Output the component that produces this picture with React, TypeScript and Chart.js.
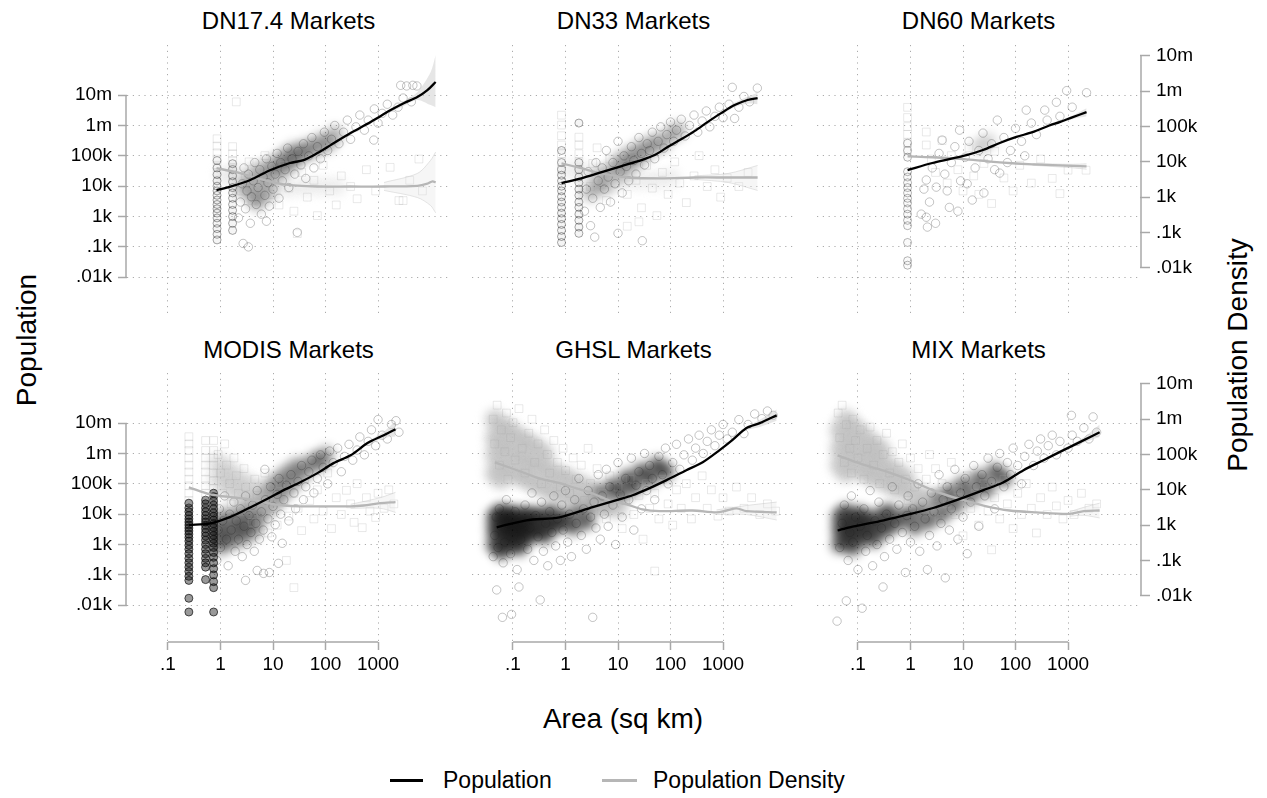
import { useEffect, useRef } from "react"
import { Chart, registerables } from "chart.js"

Chart.register(...registerables)

type Pt = [number, number]

const FONT = '"Liberation Sans", Arial, Helvetica, sans-serif'
Chart.defaults.font.family = FONT

// shared axes and labels
const xTicks = [0.1, 1, 10, 100, 1000]
const xTickLabels = [".1", "1", "10", "100", "1000"]
const yTicks = [10, 100, 1000, 10000, 100000, 1000000, 10000000]
const yTickLabels = [".01k", ".1k", "1k", "10k", "100k", "1m", "10m"]
const panelTitles = ["DN17.4 Markets", "DN33 Markets", "DN60 Markets", "MODIS Markets", "GHSL Markets", "MIX Markets"]
const legendLabels = ["Population", "Population Density"]

// ---------- DN17.4 ----------
const dn17FitArea = [0.84, 1.55, 3.7, 9, 21, 38, 70, 125, 300, 720, 1740, 3080, 5600, 8700, 12500]
const dn17FitPop = [7400, 9600, 16000, 34000, 58000, 72000, 123000, 225000, 560000, 1.3e6, 3.2e6, 5.4e6, 8.6e6, 14.5e6, 27e6]
const dn17DenArea = [0.84, 2.1, 5.1, 16, 70, 300, 1300, 5600, 8700, 10900, 12500]
const dn17Den = [6600, 5000, 3400, 2300, 2000, 2000, 2000, 2100, 2400, 2800, 2600]
const dn17PopBandArea = [1740, 3080, 5600, 10000, 12500]
const dn17PopBandHi = [3.6e6, 6.3e6, 12.5e6, 57e6, 210e6]
const dn17PopBandLo = [2.8e6, 4.4e6, 6.9e6, 4.7e6, 4.0e6]
const dn17DenBandArea = [1300, 5600, 10000, 12500]
const dn17DenBandHi = [2600, 4700, 11000, 19000]
const dn17DenBandLo = [1550, 980, 580, 360]
const dn17StripeAreas = [0.86, 1.7]
const dn17PopStripes = [
  [170, 260, 400, 600, 900, 1300, 1800, 2500, 3500, 5000, 7000, 10000, 15000, 24000, 40000, 70000],
  [350, 600, 1000, 1600, 2500, 4000, 6000, 9000, 14000, 22000, 35000, 55000],
]
const dn17DenStripes = [
  [5000, 8000, 12000, 18000, 28000, 45000],
  [4000, 7000, 11000, 17000, 27000],
]
const dn17PopPts: Pt[] = [
  [2.2, 900], [2.4, 3000], [2.6, 12000], [2.8, 40000], [3.0, 1800], [3.2, 7000], [3.4, 25000], [3.7, 600],
  [3.9, 4500], [4.2, 15000], [4.5, 60000], [4.8, 2500], [5.2, 9000], [5.6, 35000], [6.0, 1200], [6.5, 20000],
  [7.0, 5000], [7.5, 80000], [8.0, 13000], [8.5, 2200], [9.5, 45000], [10, 8000], [11, 25000], [12, 120000],
  [13, 4000], [14, 60000], [15, 15000], [17, 35000], [19, 180000], [20, 9000], [23, 80000], [26, 25000],
  [29, 300], [30, 140000], [34, 50000], [38, 250000], [42, 18000], [48, 100000], [55, 400000], [60, 40000],
  [70, 200000], [80, 80000], [95, 600000], [110, 150000], [130, 350000], [150, 1e6], [180, 250000], [220, 600000],
  [260, 1.5e6], [300, 350000], [380, 900000], [450, 2.2e6], [550, 700000], [650, 1.5e6], [830, 330000], [850, 3.5e6],
  [1000, 1.2e6], [1200, 2.5e6], [1500, 5e6], [1900, 2.2e6], [2400, 4e6], [3000, 8e6], [3500, 20e6], [4300, 6e6],
  [5500, 20e6], [2700, 21e6], [4600, 21e6], [2.7, 130], [3.4, 100], [7.5, 700],
]
const dn17PopCore: Pt[] = [
  [2.8, 8000], [3.5, 15000], [4.5, 5000], [5, 30000], [6.5, 12000], [8, 40000], [10, 20000], [12, 60000],
  [15, 35000], [17, 100000], [20, 55000], [25, 150000], [28, 80000], [35, 120000], [45, 200000], [60, 150000],
  [80, 300000], [110, 250000], [150, 500000], [5, 3000], [8, 6000],
]
const dn17DenPts: Pt[] = [
  [2.0, 500000], [2.5, 1500], [3, 4000], [3.5, 10000], [4, 800], [5, 2500], [6, 6000], [7, 15000], [9, 1200],
  [11, 3000], [13, 600], [16, 8000], [20, 1800], [25, 400], [29, 93], [35, 5000], [45, 1000], [60, 3000],
  [70, 300], [90, 8000], [120, 1500], [160, 600], [200, 4000], [300, 2000], [400, 900], [600, 6000], [900, 1500],
  [1700, 7000], [2500, 800], [3000, 800], [4000, 3000], [6000, 12000], [7000, 1500],
]
const dn17DenCore: Pt[] = [
  [1.2, 4000], [2, 5000], [3, 3000], [5, 2500], [8, 2000], [12, 2500], [20, 1800], [40, 2000], [80, 2000], [160, 2000],
]

// ---------- DN33 ----------
const dn33FitArea = [0.84, 2.0, 4.9, 11.7, 28, 50, 88, 162, 286, 505, 935, 1660, 2930, 4550]
const dn33FitPop = [12600, 18000, 29000, 46000, 72000, 106000, 194000, 355000, 650000, 1.29e6, 2.6e6, 4.7e6, 6.9e6, 8e6]
const dn33DenArea = [0.84, 2.0, 4.9, 15, 67, 286, 1260, 4550]
const dn33Den = [9100, 6600, 4700, 3600, 3400, 3600, 3600, 3600]
const dn33PopBandArea = [935, 1660, 2930, 4550]
const dn33PopBandHi = [2.9e6, 5.6e6, 8.8e6, 12e6]
const dn33PopBandLo = [2.3e6, 4.0e6, 5.2e6, 5.0e6]
const dn33DenBandArea = [286, 1260, 4550]
const dn33DenBandHi = [4000, 4700, 7900]
const dn33DenBandLo = [3200, 2600, 1550]
const dn33StripeAreas = [0.84, 1.8]
const dn33PopStripes = [
  [140, 220, 350, 550, 850, 1300, 2000, 3000, 4500, 7000, 10000, 15000, 23000, 35000, 60000, 150000],
  [280, 450, 750, 1200, 2000, 3000, 5000, 8000, 13000, 20000, 35000, 60000, 1.2e6],
]
const dn33DenStripes = [
  [6000, 10000, 17000, 30000, 55000, 110000, 210000],
  [6000, 10000, 17000, 30000, 50000],
]
const dn33PopPts: Pt[] = [
  [2.3, 1500], [2.5, 8000], [2.7, 30000], [3.0, 500], [3.3, 4000], [3.6, 210], [3.8, 60000], [4.2, 15000],
  [4.6, 2000], [5.0, 40000], [5.5, 8000], [6.0, 150000], [6.5, 20000], [7.2, 3000], [8.0, 60000], [8.8, 12000],
  [10, 280], [10, 300000], [11, 30000], [12, 6000], [13, 100000], [14.5, 45000], [16, 15000], [18, 200000],
  [20, 70000], [22, 25000], [25, 400000], [28, 120000], [29, 160], [32, 50000], [36, 250000], [40, 150000],
  [45, 600000], [50, 80000], [58, 300000], [65, 900000], [75, 180000], [85, 500000], [100, 1.3e6], [115, 300000],
  [130, 700000], [160, 1.6e6], [190, 450000], [230, 1e6], [280, 2.2e6], [330, 600000], [400, 1.4e6], [480, 3e6],
  [560, 900000], [700, 2e6], [850, 4e6], [1000, 1.8e6], [1300, 5e6], [1500, 18e6], [1660, 1.7e6], [2000, 4e6],
  [2500, 9e6], [3200, 6e6], [4500, 17e6],
]
const dn33PopCore: Pt[] = [
  [3, 6000], [4, 12000], [5, 25000], [6, 10000], [8, 30000], [10, 60000], [12, 25000], [14, 90000], [17, 50000],
  [20, 130000], [25, 80000], [30, 200000], [40, 150000], [50, 300000], [70, 250000], [100, 500000], [140, 700000],
]
const dn33DenPts: Pt[] = [
  [3, 2000], [3.3, 9000], [4, 25000], [5, 4000], [6, 800], [7, 12000], [9, 2500], [12, 6000], [15, 150],
  [15, 1200], [18, 15000], [22, 3000], [25, 200], [28, 500], [35, 8000], [45, 1800], [55, 300], [70, 5000],
  [90, 1200], [120, 10000], [150, 2500], [200, 700], [280, 4000], [350, 15000], [500, 2000], [700, 6000],
  [900, 1000], [1200, 3500], [2000, 2000], [3000, 5000],
]
const dn33DenCore: Pt[] = [
  [1.3, 6000], [2.5, 5000], [4, 4000], [7, 3500], [12, 3000], [25, 3000], [50, 3000], [100, 3500],
]

// ---------- DN60 ----------
const dn60FitArea = [0.88, 2.6, 5.5, 11.6, 24, 50, 104, 210, 440, 690, 1200, 2250]
const dn60FitPop = [34000, 58000, 78000, 105000, 155000, 265000, 420000, 600000, 1.0e6, 1.29e6, 1.85e6, 2.75e6]
const dn60DenArea = [0.88, 2.6, 11.6, 50, 210, 2250]
const dn60Den = [14400, 13500, 11800, 9700, 8500, 7400]
const dn60PopBandArea = [440, 1200, 2250]
const dn60PopBandHi = [1.1e6, 2.1e6, 3.7e6]
const dn60PopBandLo = [0.9e6, 1.6e6, 2.0e6]
const dn60DenBandArea = [210, 1200, 2250]
const dn60DenBandHi = [9000, 8500, 8800]
const dn60DenBandLo = [8000, 6800, 6200]
const dn60StripeAreas = [0.88]
const dn60PopStripes = [
  [25, 35, 140, 500, 750, 1200, 1800, 2800, 4000, 6000, 9000, 13000, 20000, 30000, 90000, 150000, 260000],
]
const dn60DenStripes = [[21000, 35000, 60000, 100000, 180000, 350000]]
const dn60PopPts: Pt[] = [
  [1.6, 1200], [1.8, 8000], [2.0, 16000], [2.0, 950], [2.1, 450], [2.3, 3000], [2.6, 40000], [3.1, 9300],
  [3.5, 120000], [4, 330000], [4.5, 25000], [5.5, 2000], [6, 60000], [7, 200000], [8.6, 700000], [9, 15000],
  [11, 90000], [13, 300000], [15, 3500], [17, 40000], [20, 150000], [24, 560000], [30, 80000], [35, 250000],
  [45, 1.5e6], [50, 27000], [60, 400000], [80, 150000], [100, 800000], [130, 300000], [160, 3.2e6], [200, 1.2e6],
  [250, 500000], [360, 3.2e6], [400, 1.5e6], [600, 5.8e6], [700, 2e6], [940, 14e6], [1200, 4e6], [2250, 12e6],
  [3, 600], [5, 7000], [8, 1500], [12, 12000], [25, 6000], [40, 35000], [70, 60000], [150, 100000],
]
const dn60PopCore: Pt[] = [[20, 200000], [30, 300000]]
const dn60DenPts: Pt[] = [
  [2, 70000], [2, 30000], [2.5, 12000], [3, 5000], [4, 40000], [5, 2500], [6, 15000], [8, 6000], [10, 1500],
  [13, 25000], [16, 4000], [20, 1200], [25, 9000], [35, 660], [40, 20000], [60, 3500], [90, 1500], [120, 8000],
  [200, 2500], [300, 12000], [500, 3400], [700, 1260], [1000, 5800], [2200, 5800],
]
const dn60DenCore: Pt[] = []

// ---------- MODIS ----------
const modisFitArea = [0.25, 0.64, 1.5, 3.5, 8, 16, 33, 70, 142, 300, 630, 1280, 2150]
const modisFitPop = [4400, 5000, 8000, 16000, 33000, 62000, 112000, 225000, 480000, 870000, 2.2e6, 4.0e6, 6.3e6]
const modisDenArea = [0.25, 0.64, 1.77, 3.7, 7.9, 16, 33, 91, 300, 530, 1100, 2150]
const modisDen = [11800, 7400, 6100, 5400, 4200, 3600, 3400, 3400, 3400, 3600, 4200, 4500]
const modisPopBandArea = [630, 1280, 2150]
const modisPopBandHi = [2.5e6, 5.2e6, 12e6]
const modisPopBandLo = [1.9e6, 3.2e6, 3.6e6]
const modisDenBandArea = [300, 1100, 2150]
const modisDenBandHi = [3900, 6000, 8500]
const modisDenBandLo = [3000, 3000, 2300]
const modisStripeAreas = [0.25, 0.52, 0.74]
const modisPopStripes = [
  [6, 17, 66, 90, 130, 180, 250, 350, 500, 700, 950, 1300, 1700, 2200, 2800, 3500, 4400, 5500, 7000, 9000, 12000, 16000, 23000],
  [70, 180, 250, 350, 500, 700, 1000, 1400, 1900, 2500, 3300, 4300, 5500, 7000, 9000, 12000, 16000, 22000, 29000],
  [6, 38, 60, 100, 160, 250, 380, 550, 800, 1100, 1500, 2000, 2700, 3600, 4800, 6400, 8500, 11000, 15000, 20000, 27000, 38000, 49000],
]
const modisDenStripes = [
  [5000, 8000, 13000, 20000, 32000, 50000, 80000, 130000, 200000, 320000],
  [5000, 8000, 13000, 20000, 32000, 50000, 80000, 130000, 250000],
  [4000, 7000, 11000, 18000, 30000, 50000, 80000, 130000, 250000],
]
const modisPopPts: Pt[] = [
  [0.85, 300], [0.9, 3000], [0.95, 15000], [1.0, 800], [1.1, 6000], [1.2, 40000], [1.3, 1500], [1.4, 200],
  [1.5, 10000], [1.6, 3000], [1.8, 25000], [1.9, 600], [2.0, 6000], [2.2, 1500], [2.4, 15000], [2.6, 400],
  [2.8, 4000], [3.0, 40000], [3.2, 1000], [3.5, 9000], [3.8, 2500], [4.1, 20000], [4.4, 600], [4.7, 5000],
  [5.0, 60000], [5.5, 1500], [6.0, 12000], [6.5, 3000], [7, 300000], [7.2, 30000], [8.0, 7000], [8.5, 120],
  [9, 80000], [9.5, 1800], [10, 18000], [11, 4500], [12, 45000], [13, 150000], [14, 10000], [15, 1100],
  [16, 30000], [18, 90000], [20, 6000], [22, 200000], [25, 50000], [27, 15000], [30, 120000], [35, 400000],
  [38, 30000], [42, 80000], [48, 250000], [55, 600000], [60, 50000], [70, 150000], [80, 900000], [90, 350000],
  [110, 100000], [120, 1.2e6], [140, 500000], [170, 1.5e6], [200, 250000], [230, 800000], [280, 2e6], [330, 600000],
  [400, 1.3e6], [450, 3.5e6], [550, 900000], [650, 2.5e6], [750, 6e6], [900, 1.8e6], [1000, 13e6], [1200, 4e6],
  [1500, 3e6], [1800, 9e6], [2200, 12e6], [2500, 5e6], [3, 66], [5, 140], [6.6, 112], [12.7, 240],
]
const modisPopCore: Pt[] = [
  [0.85, 1500], [0.85, 5000], [1, 800], [1, 3000], [1.2, 1800], [1.2, 9000], [1.5, 1200], [1.5, 4000],
  [2, 2500], [2, 8000], [2.5, 1500], [2.5, 5000], [3, 3500], [3, 15000], [4, 2500], [4, 9000], [5, 5000],
  [5, 25000], [7, 12000], [7, 50000], [10, 25000], [10, 90000], [14, 40000], [14, 150000], [20, 80000],
  [20, 250000], [30, 150000], [30, 400000], [45, 300000], [60, 600000], [80, 500000], [100, 900000],
]
const modisDenPts: Pt[] = [
  [0.9, 100000], [1, 30000], [1.1, 8000], [1.2, 200000], [1.3, 50000], [1.5, 15000], [1.6, 4000], [1.8, 80000],
  [2, 25000], [2.2, 8000], [2.5, 2500], [2.8, 40000], [3, 12000], [3.5, 4000], [4, 1200], [4.5, 20000],
  [5, 7000], [6, 2000], [7, 30000], [8, 600], [9, 10000], [10, 3000], [12, 1000], [14, 15000], [16, 5000],
  [18, 100], [20, 1800], [25, 17], [25, 8000], [30, 3000], [35, 700], [40, 20000], [50, 5000], [60, 1500],
  [70, 10000], [90, 2500], [110, 30000], [130, 800], [160, 6000], [200, 2000], [250, 9700], [300, 4000],
  [350, 1200], [400, 15000], [500, 850], [600, 6000], [700, 2500], [900, 1650], [1000, 8000], [1300, 3000],
  [1600, 10000], [2000, 4000],
]
const modisDenCore: Pt[] = [
  [0.9, 20000], [0.9, 60000], [1.2, 15000], [1.2, 40000], [1.6, 10000], [1.6, 30000], [2.2, 8000], [2.2, 20000],
  [3, 6000], [3, 15000], [4.5, 5000], [4.5, 12000], [7, 5000], [10, 4000],
]

// ---------- GHSL ----------
const ghslFitArea = [0.049, 0.18, 0.77, 3.3, 9.4, 19, 40, 84, 200, 410, 860, 1500, 2800, 5000, 10500]
const ghslFitPop = [3700, 6300, 7900, 17000, 29000, 42000, 72000, 132000, 280000, 515000, 1.29e6, 2.75e6, 6.9e6, 10e6, 18e6]
const ghslDenArea = [0.045, 0.12, 0.32, 0.77, 1.62, 3.3, 6.9, 14.5, 29, 62, 260, 750, 1170, 1800, 2800, 10500]
const ghslDen = [60000, 36000, 21000, 15500, 11000, 7900, 5000, 3900, 2800, 2500, 2600, 2300, 2600, 3000, 2500, 2300]
const ghslPopBandArea = [2800, 5000, 10500]
const ghslPopBandHi = [7.8e6, 13e6, 28e6]
const ghslPopBandLo = [6.0e6, 7.5e6, 12e6]
const ghslDenBandArea = [750, 2800, 10500]
const ghslDenBandHi = [2700, 3600, 4500]
const ghslDenBandLo = [2000, 2000, 1400]
const ghslPopPts: Pt[] = [
  [0.042, 400], [0.045, 2000], [0.048, 8000], [0.049, 32], [0.052, 800], [0.055, 15000], [0.06, 4000], [0.063, 4],
  [0.065, 250], [0.07, 1200], [0.075, 30000], [0.08, 6000], [0.09, 500], [0.094, 5], [0.1, 2500], [0.11, 12000],
  [0.12, 150], [0.13, 40], [0.14, 1500], [0.15, 5000], [0.17, 20000], [0.19, 700], [0.21, 3500], [0.23, 50000],
  [0.25, 300], [0.27, 9000], [0.3, 1800], [0.33, 15], [0.35, 25000], [0.38, 600], [0.42, 5000], [0.46, 200],
  [0.5, 12000], [0.55, 2500], [0.6, 40000], [0.65, 900], [0.7, 7000], [0.8, 300], [0.85, 20000], [0.9, 3000],
  [1.0, 60000], [1.1, 1200], [1.2, 10000], [1.3, 400], [1.5, 30000], [1.6, 5000], [1.8, 150000], [2.0, 2000],
  [2.2, 15000], [2.5, 700], [2.7, 60000], [3.0, 8000], [3.3, 4], [3.5, 25000], [3.8, 3500], [4.2, 200000],
  [4.6, 1500], [5, 40000], [5.5, 10000], [6, 300000], [6.5, 4000], [7, 80000], [8, 20000], [9, 1000],
  [10, 500000], [11, 45000], [12, 8000], [14, 150000], [16, 30000], [18, 700000], [20, 3000], [22, 90000],
  [25, 250000], [28, 15000], [32, 1e6], [35, 60000], [40, 400000], [45, 150000], [50, 30000], [60, 800000],
  [70, 200000], [80, 1.5e6], [90, 100000], [110, 500000], [130, 2e6], [150, 300000], [180, 900000], [220, 3e6],
  [260, 600000], [300, 1.5e6], [350, 4e6], [420, 1e6], [500, 2.5e6], [600, 6e6], [700, 1.8e6], [850, 4e6],
  [1000, 9e6], [1200, 3e6], [1500, 5e6], [2000, 13e6], [2500, 4.5e6], [3000, 9e6], [4000, 20e6], [5500, 14e6],
  [7000, 25e6], [9000, 18e6],
]
const ghslPopCore: Pt[] = [
  [0.045, 1000], [0.045, 3000], [0.045, 8000], [0.06, 600], [0.06, 2000], [0.06, 5000], [0.06, 12000],
  [0.08, 1000], [0.08, 3000], [0.08, 8000], [0.1, 1500], [0.1, 4000], [0.1, 10000], [0.13, 800], [0.13, 2500],
  [0.13, 6000], [0.17, 1500], [0.17, 4000], [0.17, 10000], [0.22, 2500], [0.22, 7000], [0.3, 3000], [0.3, 9000],
  [0.4, 2000], [0.4, 6000], [0.55, 4000], [0.55, 12000], [0.75, 5000], [1, 8000], [1.4, 4000], [1.8, 15000],
  [2.5, 6000], [3, 20000], [4, 50000], [6, 25000], [8, 80000], [11, 45000], [15, 150000], [20, 80000],
  [28, 250000], [40, 150000], [55, 400000], [80, 250000],
]
const ghslDenPts: Pt[] = [
  [0.042, 1e6], [0.045, 200000], [0.05, 2.5e6], [0.055, 50000], [0.06, 500000], [0.07, 120000], [0.075, 1.5e6],
  [0.08, 20000], [0.09, 300000], [0.1, 800000], [0.11, 70000], [0.13, 2e6], [0.15, 150000], [0.17, 30000],
  [0.2, 400000], [0.23, 1e6], [0.26, 60000], [0.3, 200000], [0.35, 15000], [0.4, 500000], [0.45, 100000],
  [0.5, 30000], [0.6, 250000], [0.7, 60000], [0.8, 12000], [0.9, 150000], [1.0, 35000], [1.2, 8000],
  [1.4, 80000], [1.6, 20000], [2, 50000], [2.3, 5000], [2.7, 150000], [3, 15000], [3.5, 2500], [4, 40000],
  [5, 8000], [6, 1500], [7, 25000], [8, 4000], [10, 12000], [12, 800], [14, 5000], [17, 20000], [20, 2000],
  [25, 7000], [30, 400], [35, 15000], [40, 3000], [50, 50], [50, 8000], [60, 1500], [70, 20000], [90, 4000],
  [110, 1000], [130, 10000], [160, 3000], [200, 15000], [250, 1500], [300, 6000], [400, 25000], [500, 3000],
  [600, 10000], [800, 1800], [1000, 6000], [1300, 2500], [1800, 12000], [2500, 3000], [3500, 6000], [5000, 2000],
  [7000, 4000], [10000, 2500],
]
const ghslDenCore: Pt[] = [
  [0.045, 30000], [0.045, 100000], [0.045, 300000], [0.045, 1e6], [0.06, 20000], [0.06, 60000], [0.06, 200000],
  [0.06, 600000], [0.08, 40000], [0.08, 150000], [0.08, 500000], [0.11, 30000], [0.11, 100000], [0.11, 350000],
  [0.15, 25000], [0.15, 80000], [0.15, 250000], [0.2, 20000], [0.2, 60000], [0.2, 200000], [0.28, 15000],
  [0.28, 50000], [0.28, 150000], [0.4, 12000], [0.4, 40000], [0.4, 100000], [0.55, 10000], [0.55, 30000],
  [0.8, 8000], [0.8, 25000], [1.1, 7000], [1.1, 20000], [1.6, 6000], [1.6, 15000], [2.5, 5000], [2.5, 12000],
  [4, 4000], [6, 3500], [10, 3000],
]

// ---------- MIX ----------
const mixFitArea = [0.041, 0.069, 0.31, 0.96, 2.7, 7.5, 24.5, 59, 142, 340, 820, 2000, 4000]
const mixFitPop = [2900, 3700, 6300, 10000, 16000, 29000, 62000, 113000, 282000, 600000, 1.29e6, 2.75e6, 5.0e6]
const mixDenArea = [0.041, 0.107, 0.31, 0.96, 2.7, 7.5, 24.5, 77, 250, 1070, 2000, 4000]
const mixDen = [95000, 56000, 35000, 19000, 9700, 5800, 3600, 2600, 2300, 2100, 2500, 2600]
const mixPopBandArea = [820, 2000, 4000]
const mixPopBandHi = [1.4e6, 3.4e6, 9e6]
const mixPopBandLo = [1.2e6, 2.3e6, 3.5e6]
const mixDenBandArea = [1070, 2000, 4000]
const mixDenBandHi = [2400, 3200, 4200]
const mixDenBandLo = [1800, 1900, 1600]
const mixPopPts: Pt[] = [
  [0.04, 3], [0.045, 800], [0.05, 5000], [0.055, 20000], [0.06, 14], [0.065, 300], [0.07, 2500], [0.075, 40000],
  [0.08, 1200], [0.09, 8000], [0.1, 150], [0.11, 4000], [0.12, 8], [0.13, 15000], [0.14, 600], [0.15, 2000],
  [0.17, 60000], [0.19, 200], [0.21, 6000], [0.23, 1000], [0.25, 25000], [0.28, 3500], [0.3, 40], [0.32, 400],
  [0.35, 10000], [0.4, 1500], [0.45, 80000], [0.5, 5000], [0.55, 700], [0.6, 20000], [0.7, 2500], [0.8, 120],
  [0.85, 9000], [0.9, 40000], [1, 1200], [1.1, 15000], [1.2, 4000], [1.4, 100000], [1.5, 600], [1.7, 25000],
  [1.9, 7000], [2.1, 150], [2.3, 2000], [2.5, 50000], [2.8, 12000], [3.2, 900], [3.5, 200000], [3.8, 5000],
  [4.2, 30000], [4.6, 80], [5, 80000], [5.5, 3000], [6, 15000], [7, 300000], [8, 1500], [9, 50000], [10, 8000],
  [11, 150000], [12, 500], [14, 25000], [16, 400000], [18, 80000], [20, 4000], [23, 200000], [26, 40000],
  [30, 700000], [35, 120000], [40, 15000], [45, 350000], [50, 1e6], [60, 80000], [70, 500000], [80, 200000],
  [90, 1.5e6], [110, 400000], [130, 100000], [150, 800000], [180, 2e6], [220, 400000], [260, 1.2e6], [300, 3e6],
  [350, 700000], [420, 1.8e6], [500, 4e6], [600, 900000], [700, 2.5e6], [1160, 18e6], [1000, 1.5e6], [1200, 4e6],
  [1500, 2.5e6], [2000, 7e6], [2500, 3e6], [3000, 16e6], [3500, 5e6],
]
const mixPopCore: Pt[] = [
  [0.045, 1000], [0.045, 3000], [0.045, 8000], [0.06, 1500], [0.06, 4000], [0.06, 12000], [0.08, 800],
  [0.08, 2500], [0.08, 7000], [0.11, 1500], [0.11, 4000], [0.11, 10000], [0.15, 2500], [0.15, 7000],
  [0.2, 1500], [0.2, 5000], [0.28, 3000], [0.28, 9000], [0.4, 4000], [0.4, 12000], [0.6, 6000], [0.9, 10000],
  [1.2, 4000], [1.6, 15000], [2.2, 6000], [3, 30000], [4, 10000], [5.5, 50000], [7, 20000], [10, 90000],
  [14, 40000], [20, 150000], [28, 70000], [40, 250000], [60, 150000],
]
const mixDenPts: Pt[] = [
  [0.042, 1.5e6], [0.045, 300000], [0.05, 2.5e6], [0.055, 60000], [0.06, 700000], [0.07, 150000], [0.075, 30000],
  [0.08, 1e6], [0.09, 250000], [0.1, 80000], [0.11, 500000], [0.13, 20000], [0.15, 150000], [0.17, 600000],
  [0.2, 50000], [0.23, 250000], [0.26, 15000], [0.3, 100000], [0.35, 400000], [0.4, 30000], [0.45, 120000],
  [0.5, 10000], [0.6, 60000], [0.7, 200000], [0.8, 20000], [0.9, 5000], [1, 80000], [1.2, 12000], [1.4, 40000],
  [1.6, 3000], [2, 20000], [2.3, 100000], [2.7, 6000], [3, 40000], [3.5, 1500], [4, 15000], [5, 4000],
  [6, 60000], [7, 2000], [8, 10000], [10, 500], [12, 25000], [14, 3000], [17, 8000], [20, 1000], [25, 15000],
  [30, 2500], [35, 200], [40, 6000], [50, 1500], [60, 20000], [70, 4000], [90, 800], [110, 8000], [130, 2000],
  [160, 15000], [200, 3000], [250, 600], [300, 6000], [400, 2000], [500, 12000], [600, 3500], [800, 1500],
  [1000, 5000], [1300, 2000], [1800, 8000], [2500, 3000], [3500, 4000],
]
const mixDenCore: Pt[] = [
  [0.045, 50000], [0.045, 150000], [0.045, 500000], [0.06, 30000], [0.06, 100000], [0.06, 300000], [0.06, 1e6],
  [0.08, 60000], [0.08, 200000], [0.08, 600000], [0.11, 40000], [0.11, 120000], [0.11, 400000], [0.15, 30000],
  [0.15, 90000], [0.15, 250000], [0.2, 25000], [0.2, 70000], [0.2, 180000], [0.28, 20000], [0.28, 55000],
  [0.28, 130000], [0.4, 15000], [0.4, 40000], [0.55, 12000], [0.55, 30000], [0.8, 10000], [0.8, 22000],
  [1.2, 8000], [1.8, 6000],
]

// the six panels, in reading order
const panels = [
  { fitArea: dn17FitArea, fitPop: dn17FitPop, denArea: dn17DenArea, den: dn17Den,
    popBand: [dn17PopBandArea, dn17PopBandHi, dn17PopBandLo], denBand: [dn17DenBandArea, dn17DenBandHi, dn17DenBandLo],
    stripeAreas: dn17StripeAreas, popStripes: dn17PopStripes, denStripes: dn17DenStripes,
    popPts: dn17PopPts, popCore: dn17PopCore, denPts: dn17DenPts, denCore: dn17DenCore },
  { fitArea: dn33FitArea, fitPop: dn33FitPop, denArea: dn33DenArea, den: dn33Den,
    popBand: [dn33PopBandArea, dn33PopBandHi, dn33PopBandLo], denBand: [dn33DenBandArea, dn33DenBandHi, dn33DenBandLo],
    stripeAreas: dn33StripeAreas, popStripes: dn33PopStripes, denStripes: dn33DenStripes,
    popPts: dn33PopPts, popCore: dn33PopCore, denPts: dn33DenPts, denCore: dn33DenCore },
  { fitArea: dn60FitArea, fitPop: dn60FitPop, denArea: dn60DenArea, den: dn60Den,
    popBand: [dn60PopBandArea, dn60PopBandHi, dn60PopBandLo], denBand: [dn60DenBandArea, dn60DenBandHi, dn60DenBandLo],
    stripeAreas: dn60StripeAreas, popStripes: dn60PopStripes, denStripes: dn60DenStripes,
    popPts: dn60PopPts, popCore: dn60PopCore, denPts: dn60DenPts, denCore: dn60DenCore },
  { fitArea: modisFitArea, fitPop: modisFitPop, denArea: modisDenArea, den: modisDen,
    popBand: [modisPopBandArea, modisPopBandHi, modisPopBandLo], denBand: [modisDenBandArea, modisDenBandHi, modisDenBandLo],
    stripeAreas: modisStripeAreas, popStripes: modisPopStripes, denStripes: modisDenStripes,
    popPts: modisPopPts, popCore: modisPopCore, denPts: modisDenPts, denCore: modisDenCore },
  { fitArea: ghslFitArea, fitPop: ghslFitPop, denArea: ghslDenArea, den: ghslDen,
    popBand: [ghslPopBandArea, ghslPopBandHi, ghslPopBandLo], denBand: [ghslDenBandArea, ghslDenBandHi, ghslDenBandLo],
    stripeAreas: [], popStripes: [], denStripes: [],
    popPts: ghslPopPts, popCore: ghslPopCore, denPts: ghslDenPts, denCore: ghslDenCore },
  { fitArea: mixFitArea, fitPop: mixFitPop, denArea: mixDenArea, den: mixDen,
    popBand: [mixPopBandArea, mixPopBandHi, mixPopBandLo], denBand: [mixDenBandArea, mixDenBandHi, mixDenBandLo],
    stripeAreas: [], popStripes: [], denStripes: [],
    popPts: mixPopPts, popCore: mixPopCore, denPts: mixDenPts, denCore: mixDenCore },
]

// layout (px)
const COL_LEFT = [127, 472, 817]
const ROW_TOP = [45, 373]
const TITLE_Y = [21, 350]
const PLOT_W = 323
const PLOT_H = 269
const PAD_L = 70
const PAD_R = 80
const PAD_B = 40

// axis ranges
const X_MIN = 10 ** -1.78
const X_MAX = 10 ** 4.37
const Y_MIN = 10 ** -0.21
const Y_MAX = 10 ** 8.65
const Y2_MIN = 10 ** -0.31
const Y2_MAX = 10 ** 7.31

const GRID = "rgba(150,150,150,0.8)"
const AXIS = "#a8a8a8"
const DEN_GREY = "#b6b6b6"
const popCoreAlpha = [0.28, 0.24, 0.14, 0.34, 0.6, 0.55]
const denCoreAlpha = [0.25, 0.25, 0.25, 0.45, 0.75, 0.75]
const stripeAlpha = [0.42, 0.42, 0.35, 0.8, 0.4, 0.4]
const stripeFill = [0.04, 0.04, 0.02, 0.4, 0, 0]

const xy = (xs: number[], ys: number[]) => xs.map((x, i) => ({ x, y: ys[i] }))
const pairs = (pts: Pt[]) => pts.map(([x, y]) => ({ x, y }))
const stripes = (areas: number[], vals: number[][]) =>
  areas.flatMap((a, i) => (vals[i] || []).map((y) => ({ x: a, y })))

// Stata-style axis lines that only run between the first and last tick
const axisLines = {
  id: "axisLines",
  afterDraw(chart: any, _args: any, opts: any) {
    const { ctx, chartArea: a, scales } = chart
    ctx.save()
    ctx.strokeStyle = AXIS
    ctx.lineWidth = 1.5
    ctx.beginPath()
    if (opts.left) {
      ctx.moveTo(a.left - 1, scales.y.getPixelForValue(yTicks[6]))
      ctx.lineTo(a.left - 1, scales.y.getPixelForValue(yTicks[0]))
    }
    if (opts.right) {
      ctx.moveTo(a.right + 1, scales.y2.getPixelForValue(yTicks[6]))
      ctx.lineTo(a.right + 1, scales.y2.getPixelForValue(yTicks[0]))
    }
    if (opts.bottom) {
      ctx.moveTo(scales.x.getPixelForValue(xTicks[0]), a.bottom)
      ctx.lineTo(scales.x.getPixelForValue(xTicks[4]), a.bottom)
    }
    ctx.stroke()
    ctx.restore()
  },
}

// soften the dense-cloud layers so they read as a mass of overlapping markers
const softCore = {
  id: "softCore",
  beforeDatasetDraw(chart: any, args: any) {
    const ds = chart.data.datasets[args.index]
    if (ds.blur) {
      chart.ctx.save()
      chart.ctx.filter = `blur(${ds.blur}px)`
    }
  },
  afterDatasetDraw(chart: any, args: any) {
    if (chart.data.datasets[args.index].blur) chart.ctx.restore()
  },
}

// fixed axis size and no label overhang padding, so every plot area lines up
const fixSize = (dim: "width" | "height", size: number) => (s: any) => {
  s[dim] = size
  s.paddingTop = 0
  s.paddingBottom = 0
  s.paddingLeft = 0
  s.paddingRight = 0
}

function buildConfig(idx: number, col: number, row: number): any {
  const p = panels[idx]
  const setTicks = (vals: number[]) => (s: any) => {
    s.ticks = vals.map((value) => ({ value }))
  }
  const label = (vals: number[], labels: string[]) => (v: any) => labels[vals.indexOf(Number(v))] ?? ""
  const tickFont = { size: 19 }
  const dotted = { display: false, dash: [1.2, 4.6] }
  const lineBase = { type: "line", pointRadius: 0, tension: 0.3, fill: false }
  const bandBase = { ...lineBase, borderWidth: 0, borderColor: "rgba(0,0,0,0)" }

  return {
    type: "scatter",
    data: {
      datasets: [
        { ...lineBase, data: xy(p.fitArea, p.fitPop), yAxisID: "y", borderColor: "#000", borderWidth: 2.3, order: 0 },
        { ...lineBase, data: xy(p.denArea, p.den), yAxisID: "y2", borderColor: DEN_GREY, borderWidth: 2.3, order: 0 },
        { ...bandBase, data: xy(p.popBand[0], p.popBand[1]), yAxisID: "y", fill: "+1",
          backgroundColor: "rgba(200,200,200,0.45)", order: 1 },
        { ...bandBase, data: xy(p.popBand[0], p.popBand[2]), yAxisID: "y", order: 1 },
        { ...bandBase, data: xy(p.denBand[0], p.denBand[1]), yAxisID: "y2", fill: "+1",
          backgroundColor: "rgba(225,225,225,0.3)", borderWidth: 0.7, borderColor: "rgba(200,200,200,0.7)", order: 1 },
        { ...bandBase, data: xy(p.denBand[0], p.denBand[2]), yAxisID: "y2",
          borderWidth: 0.7, borderColor: "rgba(200,200,200,0.7)", order: 1 },
        { type: "scatter", data: [...pairs(p.denPts), ...stripes(p.stripeAreas, p.denStripes)], yAxisID: "y2",
          pointStyle: "rect", pointRadius: 5.5, pointBorderWidth: 0.8,
          pointBorderColor: "rgba(165,165,165,0.3)", pointBackgroundColor: "rgba(0,0,0,0)", order: 2 },
        { type: "scatter", data: pairs(p.popPts), yAxisID: "y",
          pointStyle: "circle", pointRadius: 4.2, pointBorderWidth: 0.8,
          pointBorderColor: "rgba(30,30,30,0.33)", pointBackgroundColor: "rgba(0,0,0,0)", order: 3 },
        { type: "scatter", data: stripes(p.stripeAreas, p.popStripes), yAxisID: "y",
          pointStyle: "circle", pointRadius: 4, pointBorderWidth: 0.9,
          pointBorderColor: `rgba(20,20,20,${stripeAlpha[idx]})`,
          pointBackgroundColor: `rgba(0,0,0,${stripeFill[idx]})`, order: 3 },
        { type: "scatter", data: pairs(p.denCore), yAxisID: "y2", blur: 5,
          pointStyle: "circle", pointRadius: 10, pointBorderWidth: 0,
          pointBackgroundColor: `rgba(190,190,190,${denCoreAlpha[idx]})`, order: 4 },
        { type: "scatter", data: pairs(p.popCore), yAxisID: "y", blur: 5,
          pointStyle: "circle", pointRadius: 9, pointBorderWidth: 0,
          pointBackgroundColor: `rgba(0,0,0,${popCoreAlpha[idx]})`, order: 5 },
      ],
    },
    options: {
      animation: false,
      responsive: true,
      maintainAspectRatio: false,
      events: [],
      layout: { padding: 0, autoPadding: false },
      plugins: {
        legend: { display: false },
        tooltip: { enabled: false },
        axisLines: { left: col === 0, right: col === 2, bottom: row === 1 },
      },
      scales: {
        x: {
          type: "logarithmic", position: "bottom", min: X_MIN, max: X_MAX, bounds: "data",
          afterBuildTicks: setTicks(xTicks),
          afterFit: fixSize("height", PAD_B),
          ticks: { display: row === 1, autoSkip: false, maxRotation: 0, padding: 3, color: "#000",
            font: tickFont, callback: label(xTicks, xTickLabels) },
          grid: { color: GRID, lineWidth: 1, drawTicks: row === 1, tickLength: 8, tickColor: AXIS,
            tickWidth: 1.5, tickBorderDash: [] },
          border: dotted,
        },
        y: {
          type: "logarithmic", position: "left", min: Y_MIN, max: Y_MAX, bounds: "data",
          afterBuildTicks: setTicks(yTicks),
          afterFit: fixSize("width", PAD_L),
          ticks: { display: col === 0, autoSkip: false, padding: 6, color: "#000",
            font: tickFont, callback: label(yTicks, yTickLabels) },
          grid: { color: GRID, lineWidth: 1, drawTicks: col === 0, tickLength: 9, tickColor: AXIS,
            tickWidth: 1.5, tickBorderDash: [] },
          border: dotted,
        },
        y2: {
          type: "logarithmic", position: "right", min: Y2_MIN, max: Y2_MAX, bounds: "data",
          afterBuildTicks: setTicks(yTicks),
          afterFit: fixSize("width", PAD_R),
          ticks: { display: col === 2, autoSkip: false, padding: 6, color: "#000",
            font: tickFont, callback: label(yTicks, yTickLabels) },
          grid: { drawOnChartArea: false, drawTicks: col === 2, tickLength: 10, tickColor: AXIS,
            tickWidth: 1.5, tickBorderDash: [] },
          border: { display: false },
        },
      },
    },
    plugins: [axisLines, softCore],
  }
}

function Panel({ idx }: { idx: number }) {
  const canvasRef = useRef<HTMLCanvasElement>(null)
  const col = idx % 3
  const row = Math.floor(idx / 3)

  useEffect(() => {
    if (!canvasRef.current) return
    const chart = new Chart(canvasRef.current, buildConfig(idx, col, row))
    return () => chart.destroy()
  }, [idx, col, row])

  return (
    <div
      style={{
        position: "absolute",
        left: COL_LEFT[col] - PAD_L,
        top: ROW_TOP[row],
        width: PAD_L + PLOT_W + PAD_R,
        height: PLOT_H + PAD_B,
      }}
    >
      <canvas ref={canvasRef} />
    </div>
  )
}

const rotated = (cx: number, cy: number): any => ({
  position: "absolute",
  left: cx,
  top: cy,
  transform: "translate(-50%, -50%) rotate(-90deg)",
  whiteSpace: "nowrap",
  fontSize: 28,
  lineHeight: "34px",
})

export default function App() {
  return (
    <div
      style={{
        position: "absolute",
        left: 0,
        top: 0,
        width: 1267,
        height: 798,
        overflow: "hidden",
        background: "#fff",
        color: "#000",
        fontFamily: FONT,
      }}
    >
      {panelTitles.map((t, i) => (
        <div
          key={t}
          style={{
            position: "absolute",
            left: COL_LEFT[i % 3],
            width: PLOT_W,
            top: TITLE_Y[Math.floor(i / 3)] - 16,
            height: 32,
            lineHeight: "32px",
            textAlign: "center",
            fontSize: 24,
            whiteSpace: "nowrap",
          }}
        >
          {t}
        </div>
      ))}
      {panels.map((_, i) => (
        <Panel key={i} idx={i} />
      ))}
      <div style={rotated(27, 340)}>Population</div>
      <div style={rotated(1238, 355)}>Population Density</div>
      <div
        style={{
          position: "absolute",
          left: 623,
          top: 719,
          transform: "translate(-50%, -50%)",
          whiteSpace: "nowrap",
          fontSize: 28,
          lineHeight: "34px",
        }}
      >
        Area (sq km)
      </div>
      <div style={{ position: "absolute", left: 390, top: 779, width: 33, height: 2.5, background: "#000" }} />
      <div style={{ position: "absolute", left: 443, top: 766, lineHeight: "28px", fontSize: 23, whiteSpace: "nowrap" }}>
        {legendLabels[0]}
      </div>
      <div style={{ position: "absolute", left: 602, top: 779, width: 35, height: 2.5, background: DEN_GREY }} />
      <div style={{ position: "absolute", left: 653, top: 766, lineHeight: "28px", fontSize: 23, whiteSpace: "nowrap" }}>
        {legendLabels[1]}
      </div>
    </div>
  )
}
